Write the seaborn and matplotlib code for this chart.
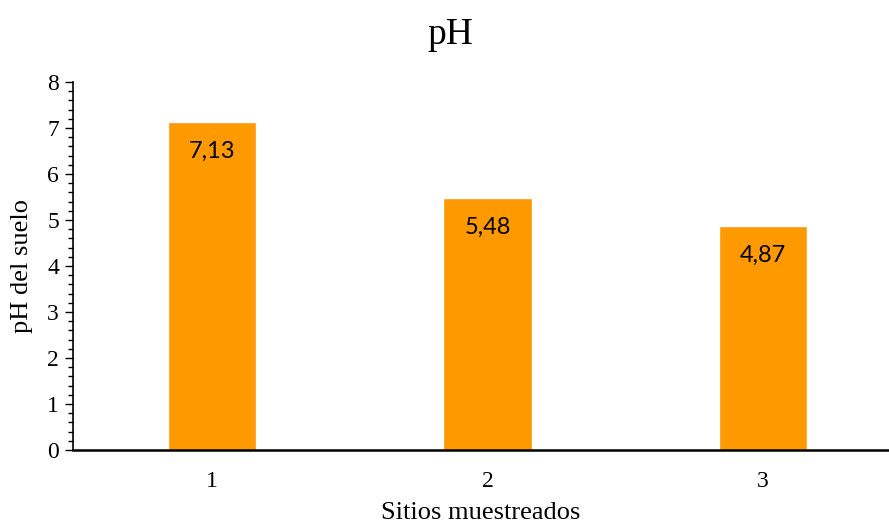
import matplotlib
matplotlib.use("Agg")
import matplotlib.pyplot as plt
from matplotlib.ticker import MultipleLocator
import seaborn as sns
import pandas as pd

sitios = ["1", "2", "3"]
ph_values = [7.13, 5.48, 4.87]
value_labels = ["7,13", "5,48", "4,87"]

df = pd.DataFrame({"Sitio": sitios, "pH": ph_values})

sns.set_theme(style="white")
plt.rcParams["font.family"] = ["Liberation Serif", "DejaVu Serif"]

W, H = 889, 525
fig = plt.figure(figsize=(W / 100, H / 100), dpi=100)
ax = fig.add_axes([73 / W, 1 - 450 / H, (889 - 73) / W, (450 - 82) / H])

sns.barplot(data=df, x="Sitio", y="pH", color="#FF9900", saturation=1,
            width=0.32, ax=ax)

ax.set_xlim(-0.504, 2.457)
ax.set_ylim(0, 8)
ax.yaxis.set_major_locator(MultipleLocator(1))
ax.yaxis.set_minor_locator(MultipleLocator(0.2))
ax.tick_params(axis="y", which="major", left=True, length=6, width=1,
               color="black", labelsize=17, pad=4, labelcolor="black")
ax.tick_params(axis="y", which="minor", left=True, length=3.5, width=1,
               color="black")
ax.tick_params(axis="x", bottom=False, labelsize=17, pad=9, labelcolor="black")

for side in ["top", "right"]:
    ax.spines[side].set_visible(False)
ax.spines["left"].set_color("black")
ax.spines["left"].set_linewidth(1.2)
ax.spines["bottom"].set_color("black")
ax.spines["bottom"].set_linewidth(1.8)

for i, (v, lab) in enumerate(zip(ph_values, value_labels)):
    ax.text(i, v - 0.63, lab, ha="center", va="center", fontsize=17,
            family=["Lato", "DejaVu Sans"], color="black")

ax.set_xlabel("Sitios muestreados", fontsize=19, color="black", labelpad=7)
ax.set_ylabel("pH del suelo", fontsize=19, color="black", labelpad=10)
fig.text(450 / W, 1 - 35 / H, "pH", ha="center", va="center",
         fontsize=27, color="black")

fig.savefig("out.png", dpi=100)
